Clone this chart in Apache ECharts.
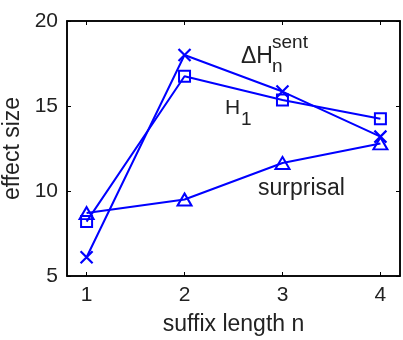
<!DOCTYPE html>
<html>
<head>
<meta charset="utf-8">
<script src="https://cdn.jsdelivr.net/npm/echarts@6/dist/echarts.min.js"></script>
<style>html,body{margin:0;padding:0;background:#fff;}#c{width:403px;height:340px;}</style>
</head>
<body>
<div id="c"></div>
<script>
const suffixLength = [1, 2, 3, 4];
const deltaHSent = [6.1, 18.0, 15.85, 13.2];
const h1 = [8.2, 16.75, 15.35, 14.25];
const surprisal = [8.7, 9.5, 11.65, 12.8];
const yTicks = [5, 10, 15, 20];

const FONT = '"Liberation Sans", Arial, sans-serif';
const BLUE = '#0000ff';
const chart = echarts.init(document.getElementById('c'), null, {renderer: 'canvas'});

function pairs(vals) { return suffixLength.map((x, i) => [x, vals[i]]); }

function xAx(extra) {
  return Object.assign({
    type: 'value', min: 0.8, max: 4.2, interval: 1, gridIndex: 0,
    splitLine: {show: false},
    axisLine: {show: true, onZero: false, lineStyle: {color: '#000', width: 1.5}},
    axisTick: {show: true, inside: true, length: 4, lineStyle: {color: '#000', width: 1}, customValues: suffixLength}
  }, extra);
}
function yAx(extra) {
  return Object.assign({
    type: 'value', min: yTicks[0], max: yTicks[yTicks.length - 1], interval: 5, gridIndex: 0,
    splitLine: {show: false},
    axisLine: {show: true, onZero: false, lineStyle: {color: '#000', width: 1.5}},
    axisTick: {show: true, inside: true, length: 4, lineStyle: {color: '#000', width: 1}}
  }, extra);
}

const option = {
  animation: false,
  backgroundColor: '#fff',
  grid: {left: 67, right: 3, top: 21, bottom: 64, containLabel: false, outerBoundsMode: 'none',
         show: true, borderColor: '#000', borderWidth: 1.5, backgroundColor: 'transparent'},
  xAxis: [
    xAx({
      position: 'bottom',
      name: 'suffix length n', nameLocation: 'middle', nameGap: 37,
      nameTextStyle: {fontFamily: FONT, fontSize: 23, color: '#222'},
      axisLabel: {show: true, margin: 9, fontFamily: FONT, fontSize: 21, color: '#222', customValues: suffixLength}
    }),
    xAx({position: 'top', axisLabel: {show: false}})
  ],
  yAxis: [
    yAx({
      position: 'left',
      name: 'effect size', nameLocation: 'middle', nameGap: 43, nameRotate: 90,
      nameTextStyle: {fontFamily: FONT, fontSize: 23, color: '#222'},
      axisLabel: {show: true, margin: 9, fontFamily: FONT, fontSize: 21, color: '#222'}
    }),
    yAx({position: 'right', axisLabel: {show: false}})
  ],
  series: [
    {
      name: 'ΔH_n^sent', type: 'line', data: pairs(deltaHSent),
      symbol: 'path://M0,0L10,10M10,0L0,10', symbolSize: 12,
      lineStyle: {color: BLUE, width: 2},
      itemStyle: {color: 'rgba(0,0,0,0)', borderColor: BLUE, borderWidth: 2.2},
      z: 3
    },
    {
      name: 'H_1', type: 'line', data: pairs(h1),
      symbol: 'rect', symbolSize: 11,
      lineStyle: {color: BLUE, width: 2},
      itemStyle: {color: 'rgba(0,0,0,0)', borderColor: BLUE, borderWidth: 2},
      z: 3
    },
    {
      name: 'surprisal', type: 'line', data: pairs(surprisal),
      symbol: 'triangle', symbolSize: [14, 12],
      lineStyle: {color: BLUE, width: 2},
      itemStyle: {color: 'rgba(0,0,0,0)', borderColor: BLUE, borderWidth: 2},
      z: 3
    }
  ],
  graphic: [
    {type: 'text', x: 241, y: 57, style: {text: 'ΔH', font: '23px ' + FONT, fill: '#222', textVerticalAlign: 'middle'}},
    {type: 'text', x: 272, y: 43, style: {text: 'sent', font: '19px ' + FONT, fill: '#222', textVerticalAlign: 'middle'}},
    {type: 'text', x: 272, y: 67, style: {text: 'n', font: '19px ' + FONT, fill: '#222', textVerticalAlign: 'middle'}},
    {type: 'text', x: 225, y: 108, style: {text: 'H', font: '21px ' + FONT, fill: '#222', textVerticalAlign: 'middle'}},
    {type: 'text', x: 241, y: 120, style: {text: '1', font: '19px ' + FONT, fill: '#222', textVerticalAlign: 'middle'}},
    {type: 'text', x: 258, y: 189, style: {text: 'surprisal', font: '23px ' + FONT, fill: '#222', textVerticalAlign: 'middle'}}
  ]
};
chart.setOption(option);
</script>
</body>
</html>
